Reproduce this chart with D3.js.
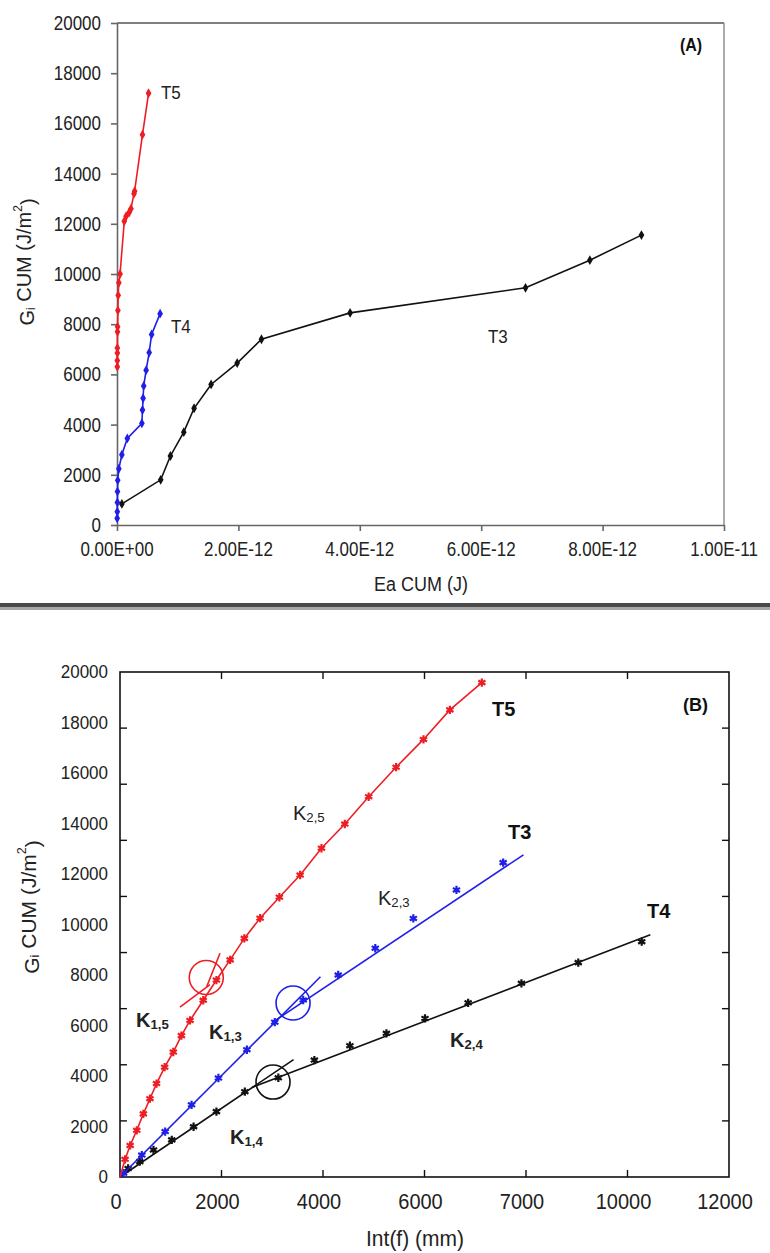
<!DOCTYPE html>
<html><head><meta charset="utf-8">
<script src="https://cdn.jsdelivr.net/npm/d3@7"></script>
<style>body{margin:0;background:#fff} svg{display:block} text{font-family:"Liberation Sans",Arial,sans-serif}</style>
</head><body><svg id="c" width="770" height="1253"></svg>
<script>
// ---------- Panel A data (Ea CUM in J, Gi CUM in J/m2) ----------
const aT5x = [0.005e-12,0.005e-12,0.006e-12,0.006e-12,0.008e-12,0.01e-12,0.015e-12,0.02e-12,0.03e-12,0.05e-12,0.12e-12,0.15e-12,0.2e-12,0.23e-12,0.28e-12,0.29e-12,0.42e-12,0.52e-12];
const aT5y = [6300,6550,6850,7050,7700,7900,8550,9150,9650,10000,12100,12300,12450,12600,13200,13300,15550,17200];
const aT4x = [0.003e-12,0.005e-12,0.006e-12,0.008e-12,0.012e-12,0.03e-12,0.08e-12,0.17e-12,0.41e-12,0.42e-12,0.43e-12,0.44e-12,0.48e-12,0.53e-12,0.57e-12,0.71e-12];
const aT4y = [270,530,900,1330,1780,2240,2800,3450,4050,4580,5050,5540,6170,6870,7590,8420];
const aT3x = [0.08e-12,0.72e-12,0.88e-12,1.1e-12,1.27e-12,1.55e-12,1.98e-12,2.38e-12,3.84e-12,6.73e-12,7.79e-12,8.64e-12];
const aT3y = [840,1800,2750,3700,4650,5600,6450,7400,8450,9450,10550,11550];
const aXTicks = [0,2e-12,4e-12,6e-12,8e-12,1e-11];
const aXTickLabels = ["0.00E+00","2.00E-12","4.00E-12","6.00E-12","8.00E-12","1.00E-11"];
const aYTicks = [0,2000,4000,6000,8000,10000,12000,14000,16000,18000,20000];

// ---------- Panel B data (Int(f) in mm, Gi CUM in J/m2) ----------
const bT5x = [0,100,200,330,460,590,720,880,1050,1210,1380,1640,1900,2170,2450,2760,3140,3550,3970,4430,4900,5440,5980,6500,7130];
const bT5y = [0,700,1250,1850,2500,3100,3700,4350,4950,5600,6200,7000,7800,8600,9450,10250,11080,11960,13020,13980,15060,16230,17330,18500,19580];
const bT3x = [70,430,890,1410,1940,2500,3050,3610,4300,5030,5780,6630,7550];
const bT3y = [150,870,1800,2860,3920,5040,6130,7010,8000,9060,10240,11370,12450];
const bT4x = [160,390,660,1020,1450,1900,2460,3120,3830,4530,5250,6010,6860,7910,9030,10280];
const bT4y = [340,610,1070,1470,1990,2590,3380,3930,4630,5200,5690,6280,6900,7670,8490,9320];
// fitted straight segments [x0,y0,x1,y1]
const fitK15 = [1708,7537,1970,8859];
const fitK25 = [1182,6732,1773,7616];
const fitK13 = [0,0,3950,7930];
const fitK23 = [3000,6120,7950,12760];
const fitK14 = [0,0,3420,4650];
const fitK24 = [2600,3547,10450,9590];
// transition circles [x,y]
const circT5 = [1700,7900];
const circT3 = [3410,6890];
const circT4 = [3015,3760];
const bXTicks = [0,2000,4000,6000,8000,10000,12000];
const bXTickLabels = ["0","2000","4000","6000","7000","10000","12000"];
const bYTicks = [0,2000,4000,6000,8000,10000,12000,14000,16000,18000,20000];
const bFrameYTicks = [2000,4000,6000,8000,10000,12000,14000,16000];
const bFrameXTicks = [2000,4000,6000,8000,10000];

const RED = "#ee1d24", BLUE = "#1f1fe8", BLACK = "#111";
const svg = d3.select("#c");

function txt(g, x, y, opts) {
  const t = g.append("text")
    .attr("transform", `translate(${x},${y}) scale(${opts.sx||1},${opts.sy||1})` + (opts.rot ? ` rotate(${opts.rot})` : ""))
    .attr("text-anchor", opts.anchor || "start")
    .attr("dominant-baseline", "central")
    .attr("font-size", opts.size || 16)
    .attr("font-weight", opts.bold ? "bold" : "normal")
    .attr("fill", opts.fill || "#222");
  return t;
}
function withSub(t, main, sub) {
  t.append("tspan").text(main);
  t.append("tspan").attr("font-size", "0.66em").attr("dy", "0.32em").text(sub);
}
function yTitle(g, x, y, size) {
  const t = txt(g, x, y, {anchor:"middle", size:size, rot:-90});
  t.append("tspan").text("G");
  t.append("tspan").attr("font-size","0.6em").attr("dy","0.35em").text("i");
  t.append("tspan").attr("dy","-0.35em").text(" CUM (J/m");
  t.append("tspan").attr("font-size","0.6em").attr("dy","-0.5em").text("2");
  t.append("tspan").attr("dy","0.5em").text(")");
}

// ================= Panel A =================
const ax = d3.scaleLinear().domain([0, 1e-11]).range([117, 724]);
const ay = d3.scaleLinear().domain([0, 20000]).range([525, 23]);
const gA = svg.append("g");
const axisCol = "#666";
gA.append("line").attr("x1", ax(0)).attr("x2", ax(1e-11)).attr("y1", ay(20000)).attr("y2", ay(20000)).attr("stroke", "#555").attr("stroke-width", 1.6);
gA.append("line").attr("x1", ax(1e-11)).attr("x2", ax(1e-11)).attr("y1", ay(20000)).attr("y2", ay(0)).attr("stroke", "#888").attr("stroke-width", 1.4);
const axA = gA.append("g").attr("transform", `translate(0,${ay(0)})`)
  .call(d3.axisBottom(ax).tickValues(aXTicks).tickFormat(()=>"").tickSize(6).tickSizeOuter(0));
const ayA = gA.append("g").attr("transform", `translate(${ax(0)},0)`)
  .call(d3.axisLeft(ay).tickValues(aYTicks).tickFormat(()=>"").tickSize(6).tickSizeOuter(0));
[axA, ayA].forEach(a => { a.selectAll("path,line").attr("stroke", axisCol).attr("stroke-width", 1.6); });
aXTicks.forEach((v,i) => txt(gA, ax(v), 549, {anchor:"middle", size:17, sy:1.15}).text(aXTickLabels[i]));
aYTicks.forEach(v => txt(gA, 101, ay(v), {anchor:"end", size:17, sy:1.15}).text(String(v)));
txt(gA, 421, 584, {anchor:"middle", size:18, sy:1.12}).text("Ea CUM (J)");
yTitle(gA, 27, 262, 20);
function seriesA(xs, ys, col) {
  const pts = xs.map((x,i)=>[x, ys[i]]);
  gA.append("path").datum(pts).attr("fill","none").attr("stroke",col).attr("stroke-width",1.6)
    .attr("d", d3.line().x(d=>ax(d[0])).y(d=>ay(d[1])));
  gA.selectAll(null).data(pts).enter().append("path")
    .attr("transform", d=>`translate(${ax(d[0])},${ay(d[1])})`)
    .attr("d", d3.symbol(d3.symbolDiamond, 28)()).attr("fill", col);
}
seriesA(aT3x, aT3y, BLACK);
seriesA(aT4x, aT4y, BLUE);
seriesA(aT5x, aT5y, RED);
txt(gA, 161, 93, {size:17, sy:1.12}).text("T5");
txt(gA, 171, 327, {size:17, sy:1.12}).text("T4");
txt(gA, 488, 337, {size:17, sy:1.12}).text("T3");
txt(gA, 680, 45, {size:16, bold:true, sy:1.1, fill:"#111"}).text("(A)");

// separator
svg.append("rect").attr("x",0).attr("y",603).attr("width",770).attr("height",4).attr("fill","#4a4a4a");
svg.append("rect").attr("x",0).attr("y",607).attr("width",770).attr("height",3).attr("fill","#a8a8a8");

// ================= Panel B =================
const bx = d3.scaleLinear().domain([0, 12000]).range([120, 729]);
const by = d3.scaleLinear().domain([0, 20000]).range([1177, 672]);
const byTick = d3.scaleLinear().domain([0, 18000]).range([1177, 672]);
const gB = svg.append("g");
gB.append("rect").attr("x", bx(0)).attr("y", by(20000)).attr("width", bx(12000)-bx(0)).attr("height", by(0)-by(20000))
  .attr("fill","none").attr("stroke","#111").attr("stroke-width",1.6);
const tl = 7;
gB.selectAll(null).data(bFrameYTicks).enter().append("line")
  .attr("x1", bx(0)).attr("x2", bx(0)+tl).attr("y1", d=>byTick(d)).attr("y2", d=>byTick(d)).attr("stroke","#111").attr("stroke-width",1.4);
gB.selectAll(null).data(bFrameYTicks).enter().append("line")
  .attr("x1", bx(12000)).attr("x2", bx(12000)-tl).attr("y1", d=>byTick(d)).attr("y2", d=>byTick(d)).attr("stroke","#111").attr("stroke-width",1.4);
gB.selectAll(null).data(bFrameXTicks).enter().append("line")
  .attr("x1", d=>bx(d)).attr("x2", d=>bx(d)).attr("y1", by(0)).attr("y2", by(0)-tl).attr("stroke","#111").attr("stroke-width",1.4);
gB.selectAll(null).data(bFrameXTicks).enter().append("line")
  .attr("x1", d=>bx(d)).attr("x2", d=>bx(d)).attr("y1", by(20000)).attr("y2", by(20000)+tl).attr("stroke","#111").attr("stroke-width",1.4);
bXTicks.forEach((v,i) => txt(gB, bx(v)-4, 1201, {anchor:"middle", size:20, sy:1.1}).text(bXTickLabels[i]));
bYTicks.forEach(v => txt(gB, 108, by(v), {anchor:"end", size:17, sy:1.05}).text(String(v)));
txt(gB, 415, 1238, {anchor:"middle", size:21, sy:1.08}).text("Int(f) (mm)");
yTitle(gB, 31, 907, 21);
const lineB = d3.line().x(d=>bx(d[0])).y(d=>by(d[1]));
function seg(f, col) {
  gB.append("path").datum([[f[0],f[1]],[f[2],f[3]]]).attr("fill","none").attr("stroke",col).attr("stroke-width",1.6).attr("d", lineB);
}
function markersB(xs, ys, col) {
  const pts = xs.map((x,i)=>[x, ys[i]]);
  gB.selectAll(null).data(pts).enter().append("path")
    .attr("transform", d=>`translate(${bx(d[0])},${by(d[1])})`)
    .attr("d", d3.symbol(d3.symbolAsterisk, 48)()).attr("fill","none").attr("stroke", col).attr("stroke-width", 2.2);
}
function circ(c, col) {
  gB.append("circle").attr("cx", bx(c[0])).attr("cy", by(c[1])).attr("r", 17).attr("fill","none").attr("stroke",col).attr("stroke-width",1.6);
}
seg(fitK14, BLACK); seg(fitK24, BLACK);
markersB(bT4x, bT4y, BLACK);
circ(circT4, BLACK);
seg(fitK13, BLUE); seg(fitK23, BLUE);
markersB(bT3x, bT3y, BLUE);
circ(circT3, BLUE);
{
  const pts = bT5x.map((x,i)=>[x, bT5y[i]]);
  gB.append("path").datum(pts).attr("fill","none").attr("stroke",RED).attr("stroke-width",1.6).attr("d", lineB);
  seg(fitK15, RED); seg(fitK25, RED);
  markersB(bT5x.slice(1), bT5y.slice(1), RED);
  circ(circT5, RED);
}
txt(gB, 492, 709, {size:20, bold:true, fill:"#111"}).text("T5");
txt(gB, 508, 832, {size:20, bold:true, fill:"#111"}).text("T3");
txt(gB, 647, 911, {size:20, bold:true, fill:"#111"}).text("T4");
txt(gB, 683, 705, {size:18, bold:true, fill:"#111"}).text("(B)");
withSub(txt(gB, 293, 813, {size:20}), "K", "2,5");
withSub(txt(gB, 378, 898, {size:20}), "K", "2,3");
withSub(txt(gB, 450, 1040, {size:20, bold:true}), "K", "2,4");
withSub(txt(gB, 136, 1020, {size:20, bold:true}), "K", "1,5");
withSub(txt(gB, 209, 1032, {size:20, bold:true}), "K", "1,3");
withSub(txt(gB, 230, 1137, {size:20, bold:true}), "K", "1,4");
</script></body></html>
